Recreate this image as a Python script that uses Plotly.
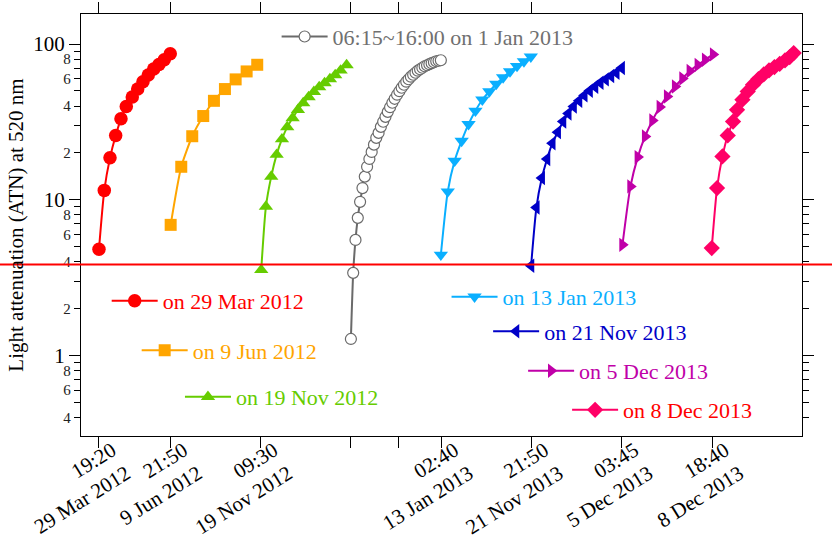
import plotly.graph_objects as go

SERIF = "Liberation Serif, Times New Roman, serif"

# ---------------- data ----------------
# x: position on the (compressed) time axis, y: light attenuation (ATN) at 520 nm
red_x = [18, 23.3, 29, 34.7, 40, 45.3, 51.3, 56.7, 62, 67.3, 72.7, 78, 83.3, 89.3]
red_y = [4.82, 11.5, 18.6, 25.9, 33.1, 39.7, 45.7, 51.4, 57.3, 63.2, 69.1, 74.0, 79.3, 86.6]

orange_x = [89.7, 100.3, 111.3, 122.3, 133, 144, 154.7, 165.7, 176.3]
orange_y = [6.91, 16.3, 25.6, 34.5, 43.2, 51.4, 59.3, 66.7, 73.6]

green_x = [180.3, 185, 190.3, 195.7, 201, 206.3, 211.7, 217, 222.3, 227.7, 233, 238.3,
           243.7, 249, 254.3, 259.7, 265.7]
green_y = [3.55, 9.06, 14.1, 19.5, 24.5, 29.3, 33.5, 37.8, 41.8, 45.7, 49.4, 52.9,
           56.2, 59.6, 63.2, 67.7, 73.3]

gray_x = [270, 272.3, 274.6, 276.9, 279.2, 281.6, 283.9, 286.2, 288.5, 290.8, 293.1,
          295.4, 297.7, 300, 302.3, 304.6, 306.9, 309.2, 311.5, 313.8, 316.2, 318.5,
          320.8, 323.1, 325.4, 327.7, 330, 332.3, 334.6, 336.9, 339.2, 341.5, 343.8,
          346.2, 348.5, 350.8, 353.1, 355.4, 357.7, 360]
gray_y = [1.28, 3.40, 5.53, 7.66, 9.71, 11.9, 14.1, 16.3, 18.3, 20.3, 22.6, 25.0, 26.9,
          29.4, 31.7, 34.1, 36.7, 39.3, 42.0, 44.5, 47.3, 49.8, 52.4, 54.8, 57.3, 59.4,
          61.7, 63.5, 65.4, 67.4, 68.9, 70.4, 72.0, 73.1, 74.2, 75.3, 76.4, 77.5, 78.1, 78.7]

lblue_x = [360, 366.9, 373.8, 380.8, 387.7, 394.6, 401.5, 408.5, 415.4, 422.3, 429.2,
           436.2, 443.1, 450]
lblue_y = [4.44, 11.3, 17.8, 23.9, 30.6, 37.3, 43.9, 49.6, 55.4, 61.0, 66.7, 72.2, 77.3, 82.9]

dblue_x = [450.3, 455.6, 461, 466.3, 471.6, 477, 482.3, 487.6, 492.9, 498.3, 503.6,
           508.9, 514.3, 519.6, 524.9, 530.3, 535.6, 541]
dblue_y = [3.78, 8.92, 13.8, 18.3, 23.1, 27.2, 31.8, 35.8, 39.7, 43.2, 46.8, 50.1,
           53.2, 56.4, 59.3, 62.3, 65.4, 70.1]

mag_x = [541.7, 549.7, 557, 564.3, 571.7, 579, 586.3, 594.3, 601.7, 609, 617, 624.3, 632.3]
mag_y = [5.14, 12.2, 18.8, 25.5, 32.3, 39.4, 46.1, 53.4, 60.1, 67.1, 73.3, 79.3, 85.8]

pink_x = [631, 636.3, 641.7, 647, 652.3, 656.3, 661.7, 667, 672.3, 677.7, 683, 688.3,
          693.7, 699, 704.3, 709, 713]
pink_y = [4.90, 11.9, 19.0, 25.9, 31.8, 37.8, 43.9, 49.6, 54.8, 59.6, 63.8, 67.7, 71.2,
          74.7, 78.5, 82.5, 87.5]

atn_threshold = 3.84

x_tick_pos = [18, 89.7, 180, 360.7, 450.7, 540.7, 631.3]
x_tick_labels = ["19:20<br>29 Mar 2012", "21:50<br>9 Jun 2012", "09:30<br>19 Nov 2012",
                 "02:40<br>13 Jan 2013", "21:50<br>21 Nov 2013", "03:45<br>5 Dec 2013",
                 "18:40<br>8 Dec 2013"]
x_minor_pos = [270, 317.3]

y_small_vals = [0.4, 0.6, 0.8, 2, 4, 6, 8, 20, 40, 60, 80]
y_small_text = ["4", "6", "8", "2", "4", "6", "8", "2", "4", "6", "8"]
y_big_vals = [1, 10, 100]
y_big_text = ["1", "10", "100"]
y_minor_vals = [0.3, 0.5, 0.7, 0.9, 3, 5, 7, 9, 30, 50, 70, 90]

# ---------------- layout helpers ----------------
W, H = 832, 539
L, R, T, B = 81, 802.3, 14.3, 436


def px(xp):
    return (xp - L) / (R - L)


def py(yp):
    return (B - yp) / (B - T)


series = [
    # name, x, y, color, symbol, size, filled, legend text color, legend line start px, legend y px
    ("on 29 Mar 2012", red_x, red_y, "#FF0000", "circle", 13.5, True, "#FF0000", 111.7, 301),
    ("on 9 Jun 2012", orange_x, orange_y, "#FFA500", "square", 12, True, "#FFA500", 141.7, 350.5),
    ("on 19 Nov 2012", green_x, green_y, "#66CC00", "triangle-up", 12.5, True, "#66CC00", 185, 397),
    ("06:15~16:00 on 1 Jan 2013", gray_x, gray_y, "#6A6A6A", "circle", 11, False, "#707070", 281.7, 37),
    ("on 13 Jan 2013", lblue_x, lblue_y, "#0AAFFF", "triangle-down", 12.5, True, "#0AAFFF", 451.7, 297),
    ("on 21 Nov 2013", dblue_x, dblue_y, "#0000C8", "triangle-left", 12.5, True, "#0000C8", 493.3, 331.5),
    ("on 5 Dec 2013", mag_x, mag_y, "#C000A8", "triangle-right", 12.5, True, "#C000A8", 528.3, 371),
    ("on 8 Dec 2013", pink_x, pink_y, "#FF0066", "diamond", 12.5, True, "#FF0000", 572.3, 410),
]

fig = go.Figure()
legends = {}
for i, (name, xs, ys, col, sym, size, filled, tcol, lx, ly) in enumerate(series):
    lname = "legend" if i == 0 else f"legend{i + 1}"
    fig.add_trace(go.Scatter(
        x=xs, y=ys, name=name, mode="lines+markers",
        line=dict(color=col, width=2, shape="spline", smoothing=0.6),
        marker=dict(symbol=sym, size=size,
                    color=col if filled else "white",
                    line=dict(color=col, width=0 if filled else 1.2)),
        legend=lname,
    ))
    legends[lname] = dict(
        x=px(lx - 5), y=py(ly), xanchor="left", yanchor="middle",
        bgcolor="rgba(0,0,0,0)", borderwidth=0, itemwidth=46,
        font=dict(family=SERIF, size=22, color=tcol),
        tracegroupgap=0,
    )

# dummy trace so the overlaying axis (long decade ticks) is drawn
fig.add_trace(go.Scatter(x=[None], y=[None], yaxis="y2", showlegend=False, hoverinfo="skip"))

axis_common = dict(showgrid=False, zeroline=False, linecolor="black", linewidth=1.3,
                   tickcolor="black", tickwidth=1.3, ticks="outside", automargin=False)

fig.update_layout(
    width=W, height=H,
    margin=dict(l=L, r=W - R, t=T, b=H - B, pad=0, autoexpand=False),
    paper_bgcolor="white", plot_bgcolor="white",
    font=dict(family=SERIF, color="black"),
    xaxis=dict(range=[0, R - L], tickmode="array", tickvals=x_tick_pos, ticktext=x_tick_labels,
               ticklen=11, showline=True, mirror="allticks", tickangle=-32,
               ticklabelshift=13, ticklabelstandoff=-18,
               tickfont=dict(family=SERIF, size=21, color="black"),
               minor=dict(tickmode="array", tickvals=x_minor_pos, ticks="outside", ticklen=3,
                          tickcolor="black", tickwidth=1.3),
               **axis_common),
    yaxis=dict(type="log", range=[-0.5157, 2.1927], tickmode="array",
               tickvals=y_small_vals, ticktext=y_small_text, ticklen=6,
               showline=True, mirror="allticks",
               tickfont=dict(family=SERIF, size=15, color="#222"),
               minor=dict(tickmode="array", tickvals=y_minor_vals, ticks="outside", ticklen=6,
                          tickcolor="black", tickwidth=1.3),
               title=dict(text="Light attenuation (ATN) at 520 nm",
                          font=dict(family=SERIF, size=21, color="black"), standoff=33),
               **axis_common),
    yaxis2=dict(type="log", range=[-0.5157, 2.1927], overlaying="y", side="left",
                tickmode="array", tickvals=y_big_vals, ticktext=y_big_text, ticklen=11,
                showline=False, mirror="allticks",
                tickfont=dict(family=SERIF, size=21, color="black"),
                **axis_common),
    shapes=[dict(type="line", xref="paper", yref="y", x0=-0.2, x1=1.2,
                 y0=atn_threshold, y1=atn_threshold,
                 line=dict(color="#FF0000", width=2), layer="above")],
    **legends,
)

fig.write_html("out.html", config={"displayModeBar": False},
               post_script="document.body.style.margin='0';document.body.style.padding='0';")
